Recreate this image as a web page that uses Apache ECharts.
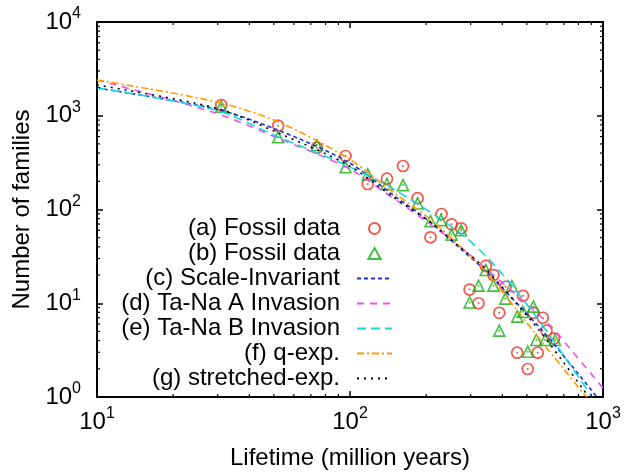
<!DOCTYPE html>
<html>
<head>
<meta charset="utf-8">
<script src="https://cdn.jsdelivr.net/npm/echarts@6/dist/echarts.min.js"></script>
<style>html,body{margin:0;padding:0;background:#fff}</style>
</head>
<body>
<div id="main" style="width:637px;height:475px;"></div>
<script>
// fossil data (lifetime, number of families)
var fossilA = [[31,1300],[52,783],[74,456],[96,372],[117.5,187],[140,213],[162,291],[185,132],[208,50.5],[230,89.5],[252,69.5],[275,63],[297,14],[322,10],[344,25],[369,20],[389,7.9],[412,15],[458,2.97],[483,12],[504,1.99],[531,7.9],[552,2.97],[578,7.0],[598,5.1],[640,4.2]];
var fossilB = [[31,1250],[52,589],[74,487],[96,282],[117.5,237],[140,186],[162,182],[185,116],[208,75],[229,77],[252,54],[275,60],[297,10.2],[322,15.4],[344,22.6],[369,15.4],[389,5.1],[411,11.2],[436,15.3],[458,7.2],[483,8.1],[504,3.04],[531,9.2],[545,4.06],[590,4.06],[646,4.06]];

// fitted curves, sampled from the figure
var scaleInvariant = [[10,1977],[29.4,1180],[51.8,705],[98.2,321],[149.6,140],[209.6,71.8],[268.6,39.8],[340.4,22.6],[572.8,5.18],[753.4,2.14],[946,1]];
var taNaA = [[10,2405],[29.4,1070],[51.8,579],[98.2,277],[136.5,154],[196.6,77.3],[258.8,45.0],[331.3,25.6],[616.6,5.86],[753.4,3.10],[1000,1.25]];
var taNaB = [[10,1977],[29.4,1151],[51.8,598],[98.2,291],[154.6,155],[284.4,51.3],[397.4,20.9],[537.5,7.5],[825.4,1.45],[903.6,1]];
var qExp = [[10,2405],[29.4,1413],[51.8,864],[98.2,352],[149.6,150],[209.6,77.3],[268.6,41.8],[340.4,22.6],[537.5,4.82],[687.5,2.10],[838,1.09],[865,1]];
var stretchedExp = [[10,2128],[29.4,1210],[51.8,659],[98.2,298],[149.6,133],[209.6,71.8],[268.6,40.8],[340.4,23.8],[537.5,5.86],[687.5,2.48],[838,1.19],[880,1]];

// minor tick positions
var xMinorTicks = [20,30,40,50,60,70,80,90,200,300,400,500,600,700,800,900];
var yMinorTicks = [2,3,4,5,6,7,8,9,20,30,40,50,60,70,80,90,200,300,400,500,600,700,800,900,2000,3000,4000,5000,6000,7000,8000,9000];

var FONT = '"Liberation Sans", Arial, Helvetica, sans-serif';
var RED = '#f22c1c';
var GREEN = '#12b012';

function powLabel(v) {
  var e = Math.round(Math.log(v) / Math.LN10);
  return '{b|10}{s|' + e + '}';
}
var labelRich = {
  b: { fontSize: 24, fontFamily: FONT, color: '#000' },
  s: { fontSize: 16, fontFamily: FONT, color: '#000', padding: [0, 0, 16, 0] }
};

var myChart = echarts.init(document.getElementById('main'));

function axisBase(pos) {
  return {
    type: 'log',
    logBase: 10,
    position: pos,
    axisLine: { show: true, lineStyle: { color: '#000', width: 2 } },
    axisTick: { show: true, inside: true, length: 6, lineStyle: { color: '#000', width: 1.5 } },
    splitLine: { show: false },
    minorTick: { show: false },
    minorSplitLine: { show: false }
  };
}

var xBottom = axisBase('bottom');
xBottom.min = 10; xBottom.max = 1000;
xBottom.axisLabel = { formatter: powLabel, rich: labelRich, margin: 9 };
xBottom.name = 'Lifetime (million years)';
xBottom.nameLocation = 'middle';
xBottom.nameGap = 49;
xBottom.nameTextStyle = { fontSize: 24, fontFamily: FONT, color: '#000' };

var xTop = axisBase('top');
xTop.min = 10; xTop.max = 1000;
xTop.axisLabel = { show: false };

var yLeft = axisBase('left');
yLeft.min = 1; yLeft.max = 10000;
yLeft.axisLabel = { formatter: powLabel, rich: labelRich, margin: 16 };
yLeft.name = 'Number of families';
yLeft.nameLocation = 'middle';
yLeft.nameGap = 59;
yLeft.nameTextStyle = { fontSize: 24, fontFamily: FONT, color: '#000' };

var yRight = axisBase('right');
yRight.min = 1; yRight.max = 10000;
yRight.axisLabel = { show: false };

function xMinorRender(params, api) {
  var v = api.value(0);
  var b = api.coord([v, 1]);
  var t = api.coord([v, 10000]);
  return { type: 'group', children: [
    { type: 'line', shape: { x1: b[0], y1: b[1], x2: b[0], y2: b[1] - 3 }, style: { stroke: '#000', lineWidth: 1.2 } },
    { type: 'line', shape: { x1: t[0], y1: t[1], x2: t[0], y2: t[1] + 3 }, style: { stroke: '#000', lineWidth: 1.2 } }
  ] };
}
function yMinorRender(params, api) {
  var v = api.value(1);
  var l = api.coord([10, v]);
  var r = api.coord([1000, v]);
  return { type: 'group', children: [
    { type: 'line', shape: { x1: l[0], y1: l[1], x2: l[0] + 3, y2: l[1] }, style: { stroke: '#000', lineWidth: 1.2 } },
    { type: 'line', shape: { x1: r[0], y1: r[1], x2: r[0] - 3, y2: r[1] }, style: { stroke: '#000', lineWidth: 1.2 } }
  ] };
}

function fitLine(name, data, color, dash) {
  return {
    name: name, type: 'line', data: data, symbol: 'none', smooth: 0.3,
    lineStyle: { color: color, width: 1.6, type: dash },
    // legend icon of a line always carries a symbol: hide it
    itemStyle: { color: color, opacity: 0 },
    z: 3
  };
}

var option = {
  animation: false,
  backgroundColor: '#fff',
  grid: { left: 97, right: 34, top: 22, bottom: 78 },
  xAxis: [xBottom, xTop],
  yAxis: [yLeft, yRight],
  legend: {
    data: [
      { name: '(a) Fossil data' },
      { name: '(b) Fossil data', icon: 'path://M5,0 L10,9 L0,9 Z' },
      { name: '(c) Scale-Invariant' },
      { name: '(d) Ta-Na A Invasion' },
      { name: '(e) Ta-Na B Invasion' },
      { name: '(f) q-exp.' },
      { name: '(g) stretched-exp.' }
    ],
    orient: 'vertical',
    align: 'right',
    right: 244,
    top: 216,
    padding: 0,
    itemGap: 0,
    itemWidth: 35,
    itemHeight: 11,
    symbolKeepAspect: true,
    selectedMode: false,
    textStyle: { fontSize: 24, fontFamily: FONT, color: '#000', lineHeight: 25, padding: [0, 12, 0, 0] }
  },
  series: [
    {
      name: '(a) Fossil data', type: 'scatter', data: fossilA,
      symbol: 'circle', symbolSize: 11,
      itemStyle: { color: 'rgba(0,0,0,0)', borderColor: RED, borderWidth: 1.7 },
      z: 2
    },
    { name: 'dotA', type: 'scatter', data: fossilA, symbol: 'circle', symbolSize: 2, itemStyle: { color: RED }, silent: true, z: 2 },
    {
      name: '(b) Fossil data', type: 'scatter', data: fossilB,
      symbol: 'triangle', symbolSize: 11,
      itemStyle: { color: 'rgba(0,0,0,0)', borderColor: GREEN, borderWidth: 1.6 },
      z: 2
    },
    { name: 'dotB', type: 'scatter', data: fossilB, symbol: 'circle', symbolSize: 2, itemStyle: { color: GREEN }, silent: true, z: 2 },
    fitLine('(c) Scale-Invariant', scaleInvariant, '#1a33d6', [4, 3]),
    fitLine('(d) Ta-Na A Invasion', taNaA, '#f050f0', [7, 6]),
    fitLine('(e) Ta-Na B Invasion', taNaB, '#10d8e0', [9, 5]),
    fitLine('(f) q-exp.', qExp, '#ff9a00', [7, 3, 2, 3]),
    fitLine('(g) stretched-exp.', stretchedExp, '#000000', [2, 5]),
    {
      name: 'xMinor', type: 'custom', silent: true, z: 5,
      data: xMinorTicks.map(function (v) { return [v, 1]; }),
      renderItem: xMinorRender
    },
    {
      name: 'yMinor', type: 'custom', silent: true, z: 5,
      data: yMinorTicks.map(function (v) { return [10, v]; }),
      renderItem: yMinorRender
    }
  ]
};

myChart.setOption(option);
</script>
</body>
</html>
